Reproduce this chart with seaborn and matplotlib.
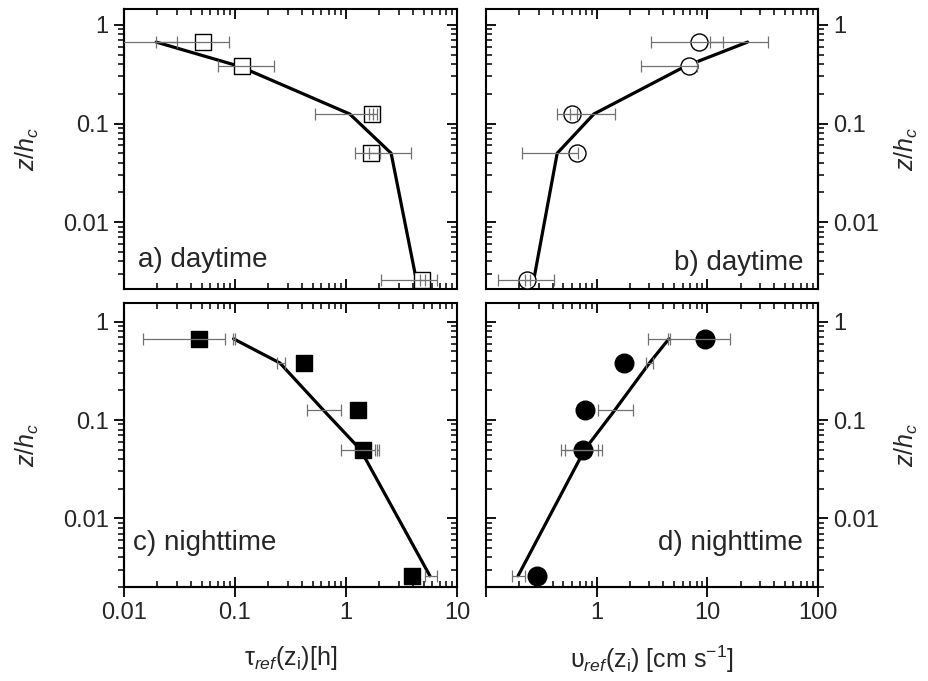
import numpy as np
import pandas as pd
import matplotlib
matplotlib.use("Agg")
import matplotlib.pyplot as plt
import seaborn as sns
from matplotlib.ticker import FixedLocator, FixedFormatter, LogLocator, NullFormatter, NullLocator

# ---------------- data ----------------
z_levels = [0.67, 0.38, 0.125, 0.05, 0.0026]

tau_day_obs = [0.052, 0.115, 1.70, 1.68, 4.8]
tau_day_model = [0.0195, 0.11, 1.08, 2.55, 4.3]
tau_day_err_lo = [0.006, 0.070, 0.525, 1.20, 2.07]
tau_day_err_hi = [0.088, 0.224, 1.89, 3.85, 6.56]
tau_day_err2_lo = [0.0193, np.nan, 1.62, 1.60, 4.6]
tau_day_err2_hi = [0.030, np.nan, 1.75, 2.02, 5.1]

v_day_obs = [8.46, 6.8, 0.60, 0.66, 0.234]
v_day_model = [23.1, 6.3, 0.944, 0.44, 0.27]
v_day_err_lo = [3.07, 2.49, 0.44, 0.21, 0.129]
v_day_err_hi = [35.0, 8.1, 1.47, 0.68, 0.41]
v_day_err2_lo = [10.5, np.nan, 0.57, np.nan, 0.223]
v_day_err2_hi = [13.8, np.nan, 0.66, np.nan, 0.248]

tau_night_obs = [0.047, 0.42, 1.29, 1.43, 3.96]
tau_night_model = [0.097, 0.254, 0.63, 1.35, 5.7]
tau_night_err_lo = [0.0149, 0.237, 0.445, 0.908, 5.15]
tau_night_err_hi = [0.081, 0.282, 0.895, 1.82, 6.56]
tau_night_err2_lo = [0.095, np.nan, np.nan, 1.92, np.nan]
tau_night_err2_hi = [0.101, np.nan, np.nan, 1.99, np.nan]

v_night_obs = [9.5, 1.78, 0.78, 0.757, 0.29]
v_night_model = [4.5, 3.0, 1.45, 0.78, 0.195]
v_night_err_lo = [2.91, 2.79, 1.02, 0.48, 0.172]
v_night_err_hi = [15.9, 3.23, 2.11, 1.11, 0.223]
v_night_err2_lo = [4.40, np.nan, np.nan, 0.515, np.nan]
v_night_err2_hi = [4.60, np.nan, np.nan, 1.03, np.nan]

tau_ticks = [0.01, 0.1, 1, 10]
tau_ticklabels = ["0.01", "0.1", "1", "10"]
v_ticks = [0.1, 1, 10, 100]
v_ticklabels = ["", "1", "10", "100"]
z_ticks = [0.01, 0.1, 1]
z_ticklabels = ["0.01", "0.1", "1"]

# ---------------- style ----------------
sns.set_style("white")
plt.rcParams["font.family"] = ["Liberation Sans", "DejaVu Sans"]
plt.rcParams["mathtext.fontset"] = "custom"
plt.rcParams["mathtext.rm"] = "Liberation Sans"
plt.rcParams["mathtext.it"] = "Liberation Sans:italic"
plt.rcParams["mathtext.bf"] = "Liberation Sans:bold"

W, H = 929, 681
fig = plt.figure(figsize=(W / 100, H / 100), dpi=100)


def add(l, r, t, b):
    return fig.add_axes([l / W, 1 - b / H, (r - l) / W, (b - t) / H])


TICK_FS = 17
ERR_COLOR = "#707070"


def panel(ax, obs, model, lo, hi, lo2, hi2, marker, filled, xlim, ylim,
          xticks, xticklabels, side, bottom, label, label_pos, ha, xlabel):
    ax.set_xscale("log")
    ax.set_yscale("log")
    ax.set_xlim(xlim)
    ax.set_ylim(ylim)

    dfm = pd.DataFrame({"x": model, "z": z_levels})
    dfo = pd.DataFrame({"x": obs, "z": z_levels})
    sns.lineplot(data=dfm, x="x", y="z", sort=False, estimator=None,
                 color="black", linewidth=2.3, ax=ax, zorder=2)
    if marker == "s":
        size = 130 if filled else 120
    else:
        size = 180 if filled else 150
    sns.scatterplot(data=dfo, x="x", y="z", marker=marker, s=size,
                    color=("black" if filled else "white"),
                    edgecolor="black", linewidth=1.0, ax=ax, zorder=3)

    for L, Hh in ((lo, hi), (lo2, hi2)):
        L = np.asarray(L, float)
        Hh = np.asarray(Hh, float)
        zz = np.asarray(z_levels, float)
        ok = ~np.isnan(L)
        c = np.sqrt(L[ok] * Hh[ok])
        ax.errorbar(c, zz[ok], xerr=[c - L[ok], Hh[ok] - c], fmt="none",
                    ecolor=ERR_COLOR, elinewidth=0.9, capsize=4,
                    capthick=0.9, zorder=4, clip_on=True)

    ax.set_xlabel("")
    ax.set_ylabel("")
    for s in ax.spines.values():
        s.set_visible(True)
        s.set_linewidth(1.5)
        s.set_color("black")

    ax.xaxis.set_major_locator(FixedLocator(xticks))
    ax.xaxis.set_major_formatter(FixedFormatter(xticklabels))
    ax.xaxis.set_minor_locator(LogLocator(base=10, subs=np.arange(2, 10), numticks=20))
    ax.xaxis.set_minor_formatter(NullFormatter())
    ax.yaxis.set_major_locator(FixedLocator(z_ticks))
    ax.yaxis.set_major_formatter(NullFormatter())
    ax.yaxis.set_minor_locator(LogLocator(base=10, subs=np.arange(2, 10), numticks=20))
    ax.yaxis.set_minor_formatter(NullFormatter())
    ax.tick_params(axis="both", which="both", direction="in", top=True,
                   bottom=True, left=(side == "right"), right=(side == "left"),
                   labelleft=False, labelright=False, labeltop=False,
                   labelbottom=False, color="black")
    ax.tick_params(which="major", length=7, width=1.3)
    ax.tick_params(which="minor", length=4, width=1.1)

    sec = ax.secondary_yaxis(side)
    sec.set_yticks(z_ticks, labels=z_ticklabels)
    sec.yaxis.set_minor_locator(LogLocator(base=10, subs=np.arange(2, 10), numticks=20))
    sec.yaxis.set_minor_formatter(NullFormatter())
    sec.tick_params(which="both", direction="out", labelsize=TICK_FS, pad=4, color="black")
    sec.tick_params(which="major", length=7, width=1.3)
    sec.tick_params(which="minor", length=4, width=1.1)
    for s in sec.spines.values():
        s.set_linewidth(1.5)
    sec.set_ylabel(r"$z/h_c$", fontsize=18, labelpad=(16 if side == "left" else 10))

    if bottom:
        secx = ax.secondary_xaxis("bottom")
        secx.set_xticks(xticks, labels=xticklabels)
        secx.xaxis.set_minor_locator(NullLocator())
        secx.tick_params(which="major", direction="out", length=7, width=1.3,
                         labelsize=TICK_FS, pad=4, color="black")
        for s in secx.spines.values():
            s.set_linewidth(1.5)
        secx.set_xlabel(xlabel, fontsize=18, labelpad=14)

    ax.text(label_pos[0], label_pos[1], label, transform=ax.transAxes,
            ha=ha, va="baseline", fontsize=20)


ax_a = add(124, 457, 9, 289)
ax_b = add(486, 818, 9, 289)
ax_c = add(124, 457, 303, 587)
ax_d = add(486, 818, 303, 587)

ylim_top = (0.0021, 1.45)
ylim_bot = (0.002, 1.55)

panel(ax_a, tau_day_obs, tau_day_model, tau_day_err_lo, tau_day_err_hi,
      tau_day_err2_lo, tau_day_err2_hi, "s", False, (0.01, 10), ylim_top,
      tau_ticks, tau_ticklabels, "left", False, "a) daytime", (0.042, 0.079), "left", "")
panel(ax_b, v_day_obs, v_day_model, v_day_err_lo, v_day_err_hi,
      v_day_err2_lo, v_day_err2_hi, "o", False, (0.1, 100), ylim_top,
      v_ticks, v_ticklabels, "right", False, "b) daytime", (0.955, 0.068), "right", "")
panel(ax_c, tau_night_obs, tau_night_model, tau_night_err_lo, tau_night_err_hi,
      tau_night_err2_lo, tau_night_err2_hi, "s", True, (0.01, 10), ylim_bot,
      tau_ticks, tau_ticklabels, "left", True, "c) nighttime", (0.026, 0.13), "left",
      r"$\mathrm{\tau}_{ref}(\mathrm{z}_{\mathrm{i}})$[h]")
panel(ax_d, v_night_obs, v_night_model, v_night_err_lo, v_night_err_hi,
      v_night_err2_lo, v_night_err2_hi, "o", True, (0.1, 100), ylim_bot,
      v_ticks, v_ticklabels, "right", True, "d) nighttime", (0.955, 0.13), "right",
      r"$\mathrm{\upsilon}_{ref}(\mathrm{z}_{\mathrm{i}})$ [cm s$^{\mathrm{-1}}$]")

fig.savefig("out.png", dpi=100)
